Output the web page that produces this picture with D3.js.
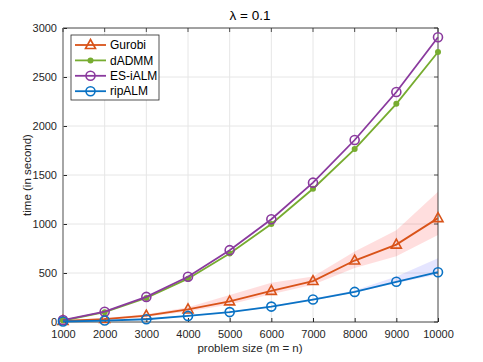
<!DOCTYPE html>
<html>
<head>
<meta charset="utf-8">
<script src="https://cdn.jsdelivr.net/npm/d3@7"></script>
<style>
  body { margin: 0; background: #fff; }
  svg { font-family: "Liberation Sans", Arial, sans-serif; }
</style>
</head>
<body>
<svg id="chart" width="483" height="362"></svg>
<script>
// problem sizes and timings (seconds)
const sizes = [1000, 2000, 3000, 4000, 5000, 6000, 7000, 8000, 9000, 10000];
const gurobi = [10, 30, 65, 128, 210, 318, 418, 627, 790, 1060];
const gurobiLo = [5, 20, 52, 108, 178, 284, 380, 550, 670, 888];
const gurobiHi = [15, 40, 78, 150, 275, 400, 465, 720, 935, 1330];
const dadmm = [15, 100, 245, 442, 698, 1000, 1360, 1765, 2226, 2755];
const esialm = [20, 105, 256, 462, 733, 1048, 1422, 1857, 2347, 2905];
const ripalm = [5, 15, 28, 62, 101, 157, 229, 307, 410, 508];
const ripalmLo = [3, 12, 24, 56, 95, 150, 222, 298, 398, 485];
const ripalmHi = [8, 18, 32, 68, 108, 166, 240, 322, 465, 650];
const xTicks = [1000, 2000, 3000, 4000, 5000, 6000, 7000, 8000, 9000, 10000];
const yTicks = [0, 500, 1000, 1500, 2000, 2500, 3000];

const series = [
  { name: 'Gurobi', values: gurobi, color: '#d95319', marker: 'tri' },
  { name: 'dADMM', values: dadmm, color: '#77ac30', marker: 'dot' },
  { name: 'ES-iALM', values: esialm, color: '#8a3a9e', marker: 'circ' },
  { name: 'ripALM', values: ripalm, color: '#0a72c4', marker: 'circ' }
];
const bands = [
  { lo: gurobiLo, hi: gurobiHi, fill: 'rgba(255,0,0,0.13)' },
  { lo: ripalmLo, hi: ripalmHi, fill: 'rgba(0,0,255,0.10)' }
];

const m = { left: 63, right: 438, top: 28, bottom: 322 };
const svg = d3.select('#chart');
const x = d3.scaleLinear().domain([1000, 10000]).range([m.left, m.right]);
const y = d3.scaleLinear().domain([0, 3000]).range([m.bottom, m.top]);

// grid
const grid = svg.append('g').attr('stroke', '#e6e6e6').attr('stroke-width', 1);
grid.selectAll('.gx').data(xTicks).join('line')
  .attr('x1', d => x(d)).attr('x2', d => x(d)).attr('y1', m.top).attr('y2', m.bottom);
grid.selectAll('.gy').data(yTicks).join('line')
  .attr('y1', d => y(d)).attr('y2', d => y(d)).attr('x1', m.left).attr('x2', m.right);

// shaded ranges
bands.forEach(b => {
  const area = d3.area()
    .x((d, i) => x(sizes[i]))
    .y0((d, i) => y(b.lo[i]))
    .y1((d, i) => y(b.hi[i]));
  svg.append('path').datum(sizes).attr('d', area).attr('fill', b.fill);
});

// axes (matlab style, ticks inside, box)
const tickLen = 4;
const axX = svg.append('g').attr('transform', `translate(0,${m.bottom})`)
  .call(d3.axisBottom(x).tickValues(xTicks).tickSize(-tickLen).tickPadding(8).tickFormat(d3.format('d')));
const axY = svg.append('g').attr('transform', `translate(${m.left},0)`)
  .call(d3.axisLeft(y).tickValues(yTicks).tickSize(-tickLen).tickPadding(6).tickFormat(d3.format('d')));
[axX, axY].forEach(a => {
  a.select('.domain').remove();
  a.selectAll('line').attr('stroke', '#262626');
  a.selectAll('text').attr('fill', '#262626').attr('font-size', 11);
});
const box = svg.append('g').attr('fill', 'none').attr('stroke', '#262626').attr('stroke-width', 0.8);
box.append('line').attr('x1', m.left).attr('x2', m.right).attr('y1', m.top).attr('y2', m.top);
box.append('line').attr('x1', m.right).attr('x2', m.right).attr('y1', m.top).attr('y2', m.bottom);
box.append('line').attr('x1', m.left).attr('x2', m.right).attr('y1', m.bottom).attr('y2', m.bottom);
box.append('line').attr('x1', m.left).attr('x2', m.left).attr('y1', m.top).attr('y2', m.bottom)
  .attr('stroke', '#8c8c8c').attr('stroke-width', 1.5);
// top and right ticks
box.selectAll('.tt').data(xTicks).join('line')
  .attr('x1', d => x(d)).attr('x2', d => x(d)).attr('y1', m.top).attr('y2', m.top + tickLen);
box.selectAll('.rt').data(yTicks).join('line')
  .attr('x1', m.right).attr('x2', m.right - tickLen).attr('y1', d => y(d)).attr('y2', d => y(d));

function drawMarker(g, type, color) {
  if (type === 'tri') {
    g.append('path').attr('d', 'M0,-5.5L5,3.5L-5,3.5Z')
      .attr('fill', 'none').attr('stroke', color).attr('stroke-width', 1.6);
  } else if (type === 'dot') {
    g.append('circle').attr('r', 3).attr('fill', color);
  } else {
    g.append('circle').attr('r', 4.5).attr('fill', 'none')
      .attr('stroke', color).attr('stroke-width', 1.6);
  }
}

// lines
const line = d3.line().x((d, i) => x(sizes[i])).y(d => y(d));
series.forEach(s => {
  const g = svg.append('g');
  g.append('path').datum(s.values).attr('d', line)
    .attr('fill', 'none').attr('stroke', s.color).attr('stroke-width', 1.8);
  s.values.forEach((v, i) => {
    const mk = g.append('g').attr('transform', `translate(${x(sizes[i])},${y(v)})`);
    drawMarker(mk, s.marker, s.color);
  });
});

// legend
const lg = svg.append('g').attr('transform', 'translate(71,35)');
lg.append('rect').attr('width', 88).attr('height', 65)
  .attr('fill', '#fff').attr('stroke', '#262626').attr('stroke-width', 0.8);
series.forEach((s, i) => {
  const row = lg.append('g').attr('transform', `translate(0,${10 + i * 15.4})`);
  row.append('line').attr('x1', 4).attr('x2', 35).attr('stroke', s.color).attr('stroke-width', 1.8);
  drawMarker(row.append('g').attr('transform', 'translate(19.5,0)'), s.marker, s.color);
  row.append('text').attr('x', 39).attr('y', 4.2).attr('font-size', 12)
    .attr('fill', '#000').text(s.name);
});

// labels
svg.append('text').attr('x', 250).attr('y', 20).attr('text-anchor', 'middle')
  .attr('font-size', 13.5).attr('fill', '#000').text('λ = 0.1');
svg.append('text').attr('x', 250).attr('y', 352).attr('text-anchor', 'middle')
  .attr('font-size', 11.5).attr('fill', '#262626').text('problem size (m = n)');
svg.append('text').attr('transform', `translate(31,${(m.top + m.bottom) / 2}) rotate(-90)`)
  .attr('text-anchor', 'middle').attr('font-size', 11.5).attr('fill', '#262626')
  .text('time (in second)');
</script>
</body>
</html>
